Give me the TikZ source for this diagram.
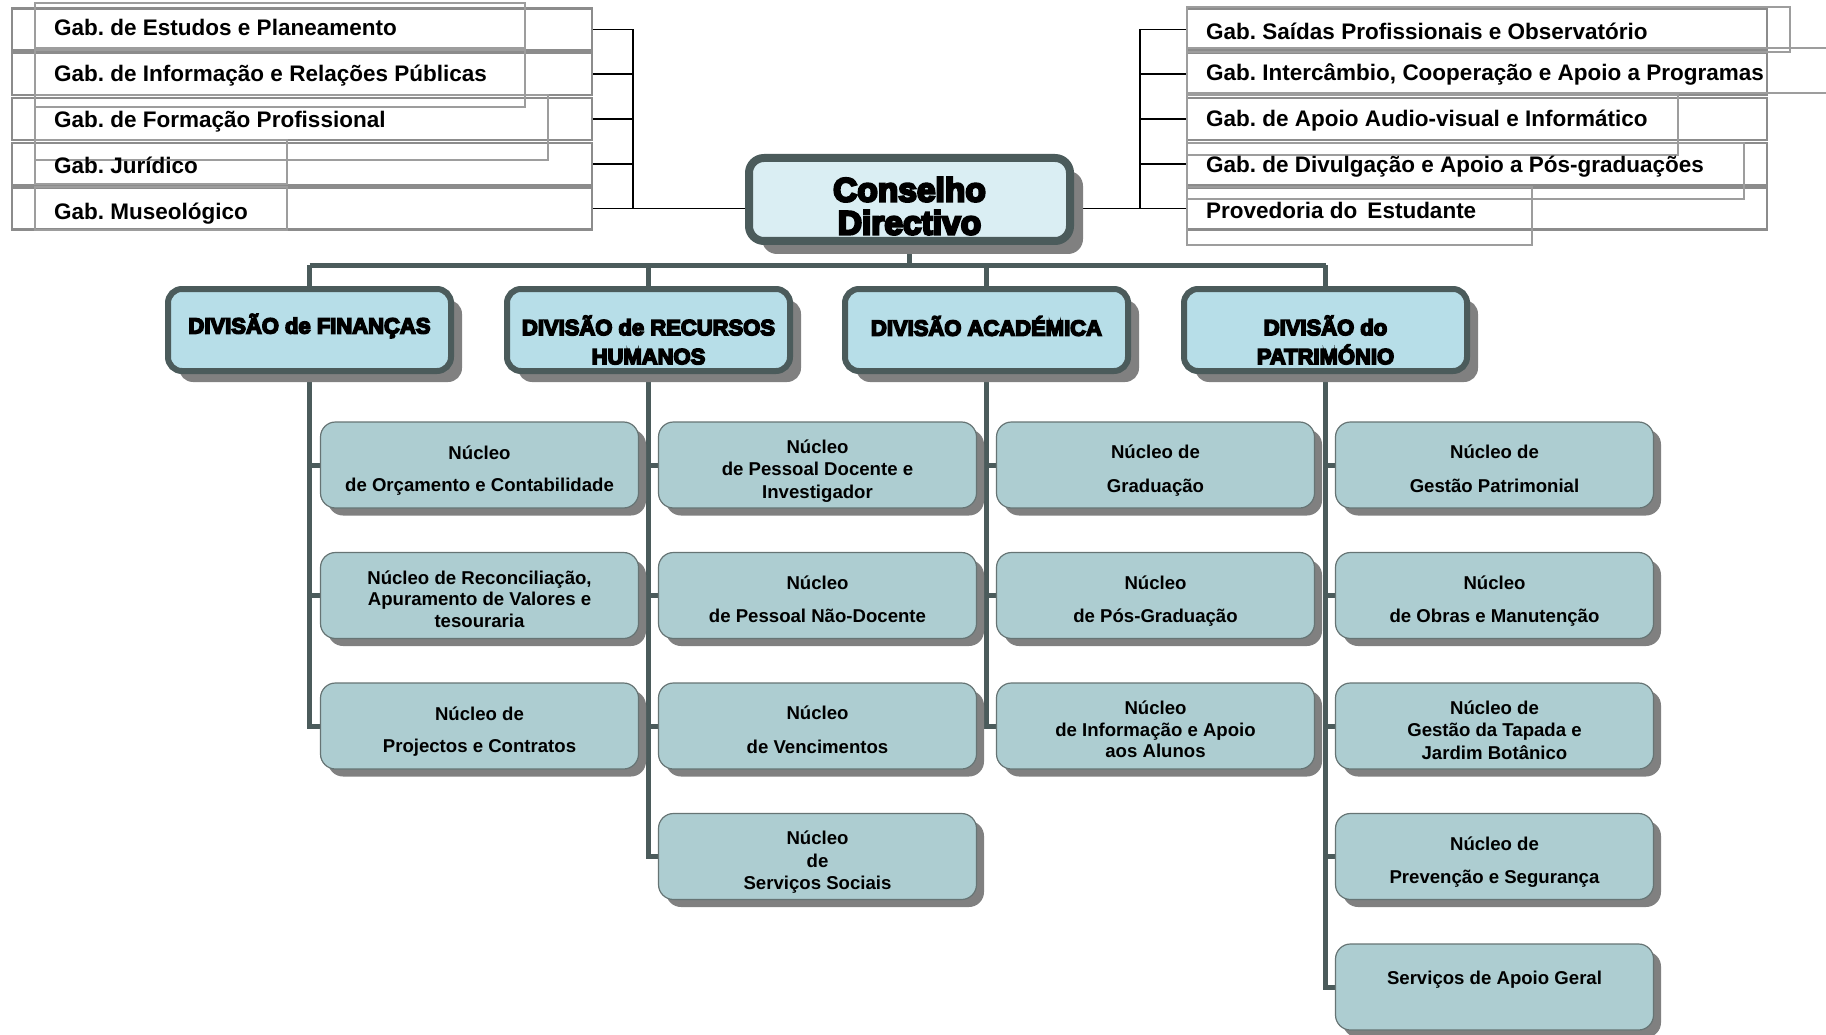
\documentclass[tikz,border=0pt]{standalone}
\usepackage{fontspec}
\setmainfont{Liberation Sans}
\newfontfamily\heavyfont{Liberation Sans}[BoldFeatures={FakeBold=7}]
\usetikzlibrary{shadows}
\definecolor{slate}{HTML}{4B5B5B}
\definecolor{shadowgray}{HTML}{808080}
\definecolor{cdfill}{HTML}{DAEEF3}
\definecolor{divfill}{HTML}{B7DEE8}
\definecolor{nucfill}{HTML}{ADCDD1}
\definecolor{gabline}{HTML}{8C8C8C}
\pgfdeclarelayer{bg}
\pgfsetlayers{bg,main}
\frenchspacing
\newcommand\nuctext[1]{\raisebox{0pt}[\dimexpr\height+12pt\relax][\depth]{\begin{tabular}{@{}c@{}}#1\end{tabular}}}
\begin{document}
\begin{tikzpicture}[x=1pt,y=-1pt,
  gabrow/.style={draw=gabline,line width=2.5pt,minimum width=580pt,minimum height=42pt,inner sep=0pt},
  gabin/.style={draw=gabline!85,line width=1.4pt},
  gabtxt/.style={anchor=base west,inner sep=0pt,font=\bfseries\fontsize{22.5}{27}\selectfont},
  conn/.style={draw=black,line width=1.6pt},
  bus/.style={draw=slate,line width=5pt},
  cdbox/.style={draw=slate,line width=8pt,fill=cdfill,rounded corners=15pt,minimum width=321pt,minimum height=83pt,inner sep=0pt,
    drop shadow={shadow xshift=13pt,shadow yshift=-13pt,fill=shadowgray,opacity=1}},
  cdtxt/.style={align=center,inner sep=0pt,font=\heavyfont\bfseries\fontsize{33.5}{33}\selectfont},
  divbox/.style={draw=slate,line width=6pt,fill=divfill,rounded corners=14pt,minimum width=283pt,minimum height=82pt,inner sep=0pt,
    drop shadow={shadow xshift=11pt,shadow yshift=-11pt,fill=shadowgray,opacity=1}},
  divtxt/.style={align=center,inner sep=0pt,font=\heavyfont\bfseries\fontsize{22}{29}\selectfont},
  nuc/.style={draw=slate!85,line width=1.2pt,fill=nucfill,rounded corners=15pt,minimum width=318pt,minimum height=86pt,inner sep=0pt,
    font=\bfseries\fontsize{18.6}{22.5}\selectfont,
    drop shadow={shadow xshift=7.5pt,shadow yshift=-7.5pt,fill=shadowgray,opacity=1}}
]
\useasboundingbox (0,0) rectangle (1826,1035);
\begin{pgfonlayer}{bg}
\fill[white] (0,0) rectangle (1826,1035);
\end{pgfonlayer}
\clip (0,0) rectangle (1826,1035);

% ---------- left gabinetes ----------
\foreach \i/\y in {1/29.4,2/74.2,3/119,4/163.8,5/208.6}
  \node[gabrow] (gl\i) at (302,\y) {};
\draw[gabin] (35,3) rectangle (525,50);
\draw[gabin] (35,48) rectangle (525,107);
\draw[gabin] (35,95) rectangle (548,160);
\draw[gabin] (35,140) rectangle (287,184);
\draw[gabin] (35,187) rectangle (287,230);
\node[gabtxt] (gt1) at (54,35.5) {Gab. de Estudos e Planeamento};
\node[gabtxt] (gt2) at (54,81.5) {Gab. de Informação e Relações Públicas};
\node[gabtxt] (gt3) at (54,128) {Gab. de Formação Profissional};
\node[gabtxt] (gt4) at (54,173.5) {Gab. Jurídico};
\node[gabtxt] (gt5) at (54,219.5) {Gab. Museológico};

% ---------- right gabinetes ----------
\foreach \i/\y in {1/29.4,2/74.2,3/119,4/163.8,5/208.6}
  \node[gabrow] (gr\i) at (1477,\y) {};
\draw[gabin] (1187,7) rectangle (1790,52);
\draw[gabin] (1187,48) rectangle (1850,93);
\draw[gabin] (1187,95) rectangle (1678,155);
\draw[gabin] (1187,143) rectangle (1744,199);
\draw[gabin] (1187,187) rectangle (1532,245);
\node[gabtxt] (rt1) at (1206,40) {Gab. Saídas Profissionais e Observatório};
\node[gabtxt] (rt2) at (1206,81) {Gab. Intercâmbio, Cooperação e Apoio a Programas};
\node[gabtxt] (rt3) at (1206,127) {Gab. de Apoio Audio-visual e Informático};
\node[gabtxt] (rt4) at (1206,173) {Gab. de Divulgação e Apoio a Pós-graduações};
\node[gabtxt] (rt5) at (1206,218.5) {Provedoria do\, Estudante};

% ---------- conselho ----------
\node[cdbox] (cd) at (909.5,199.5) {};
\node[cdtxt] (cdt) at (909.5,206) {Conselho\\Directivo};

% ---------- divisions ----------
\node[divbox] (d1) at (309.5,330) {};
\node[divbox] (d2) at (648.5,330) {};
\node[divbox] (d3) at (986.5,330) {};
\node[divbox] (d4) at (1325.5,330) {};
\node[divtxt] (d1t) at (309.5,326) {DIVISÃO de FINANÇAS};
\node[divtxt] (d2t) at (648.5,340) {DIVISÃO de RECURSOS\\HUMANOS};
\node[divtxt] (d3t) at (986.5,326) {DIVISÃO ACADÉMICA};
\node[divtxt] (d4t) at (1325.5,340) {DIVISÃO do\\PATRIMÓNIO};

% ---------- núcleos ----------
\node[nuc] (f1) at (479.5,465) {\nuctext{Núcleo\\[10pt]de Orçamento e Contabilidade}};
\node[nuc,font=\bfseries\fontsize{18.6}{21.5}\selectfont] (f2) at (479.5,595.5) {\nuctext{Núcleo de Reconciliação,\\Apuramento de Valores e\\tesouraria}};
\node[nuc] (f3) at (479.5,726) {\nuctext{Núcleo de\\[10pt]Projectos e Contratos}};

\node[nuc] (r1) at (817.5,465) {\nuctext{Núcleo\\de Pessoal Docente e\\Investigador}};
\node[nuc] (r2) at (817.5,595.5) {\nuctext{Núcleo\\[11pt]de Pessoal Não-Docente}};
\node[nuc] (r3) at (817.5,726) {\nuctext{Núcleo\\[11pt]de Vencimentos}};
\node[nuc] (r4) at (817.5,856.5) {\nuctext{Núcleo\\de\\Serviços Sociais}};

\node[nuc] (a1) at (1155.5,465) {\nuctext{Núcleo de\\[11pt]Graduação}};
\node[nuc] (a2) at (1155.5,595.5) {\nuctext{Núcleo\\[11pt]de Pós-Graduação}};
\node[nuc,font=\bfseries\fontsize{18.6}{21.5}\selectfont] (a3) at (1155.5,726) {\nuctext{Núcleo\\de Informação e Apoio\\aos Alunos}};

\node[nuc] (p1) at (1494.5,465) {\nuctext{Núcleo de\\[11pt]Gestão Patrimonial}};
\node[nuc] (p2) at (1494.5,595.5) {\nuctext{Núcleo\\[11pt]de Obras e Manutenção}};
\node[nuc] (p3) at (1494.5,726) {\nuctext{Núcleo de\\Gestão da Tapada e\\Jardim Botânico}};
\node[nuc] (p4) at (1494.5,856.5) {\nuctext{Núcleo de\\[11pt]Prevenção e Segurança}};
\node[nuc,text depth=18pt] (p5) at (1494.5,987) {Serviços de Apoio Geral};

% ---------- connectors ----------
\coordinate (lv) at (633,0);
\coordinate (rv) at (1140,0);
\coordinate (bj) at (909.5,265);
\begin{pgfonlayer}{bg}
  \foreach \i in {1,...,5} {
    \draw[conn] (gl\i.east) -- (gl\i.east -| lv);
    \draw[conn] (gr\i.west) -- (gr\i.west -| rv);
  }
  \draw[conn] (gl1.east -| lv) -- (gl5.east -| lv) -- (cd.west |- gl5.east);
  \draw[conn] (gr1.west -| rv) -- (gr5.west -| rv) -- (cd.east |- gr5.west);
  \draw[bus] (cd.south) -- (bj);
  \draw[bus] (d1.north |- bj) -- (d4.north |- bj);
  \foreach \d in {d1,d2,d3,d4}
    \draw[bus] (\d.north |- bj) -- (\d.north);
  \draw[bus] (d1.south) -- (d1.south |- f3.west) -- (f3.west);
  \draw[bus] (d1.south |- f1.west) -- (f1.west);
  \draw[bus] (d1.south |- f2.west) -- (f2.west);
  \draw[bus] (d2.south) -- (d2.south |- r4.west) -- (r4.west);
  \foreach \n in {r1,r2,r3}
    \draw[bus] (d2.south |- \n.west) -- (\n.west);
  \draw[bus] (d3.south) -- (d3.south |- a3.west) -- (a3.west);
  \foreach \n in {a1,a2}
    \draw[bus] (d3.south |- \n.west) -- (\n.west);
  \draw[bus] (d4.south) -- (d4.south |- p5.west) -- (p5.west);
  \foreach \n in {p1,p2,p3,p4}
    \draw[bus] (d4.south |- \n.west) -- (\n.west);
\end{pgfonlayer}
\end{tikzpicture}
\end{document}
